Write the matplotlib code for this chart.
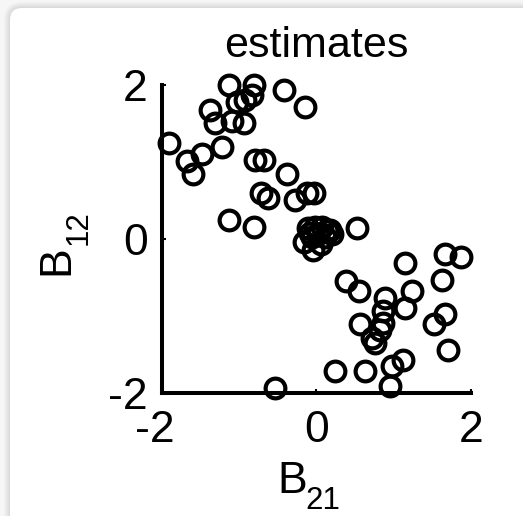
import matplotlib
matplotlib.use("Agg")
import matplotlib.pyplot as plt
from matplotlib.patches import FancyBboxPatch
import matplotlib.transforms as mtransforms
import numpy as np

plt.rcParams['font.family'] = ['Liberation Sans', 'DejaVu Sans']

# data
b21 = [-1.13, -0.81, -0.83, -1.02, -0.92, -0.42, -0.14, -1.37, -1.31, -1.09,
       -0.94, -1.91, -1.67, -1.48, -1.59, -1.22, -0.79, -0.68, -0.38, -0.72,
       -0.62, -0.27, -0.12, -0.03, -1.13, -0.81,
       -0.16, -0.04, -0.10, -0.02, 0.08, 0.18, 0.20, 0.12, 0.02, -0.06, 0.06, 0.14, -0.08,
       0.53,
       0.38, 0.55, 1.15, 1.67, 1.87, 1.63, 1.24, 0.89, 0.87, 1.15,
       0.57, 0.87, 0.82, 0.72, 0.76, 1.52, 1.67, 1.71, 0.24, 0.63,
       0.98, 1.13, 0.96, -0.53]
b12 = [2.00, 2.00, 1.87, 1.78, 1.80, 1.94, 1.72, 1.68, 1.51, 1.53,
       1.51, 1.25, 1.01, 1.10, 0.84, 1.19, 1.03, 1.03, 0.84, 0.60,
       0.53, 0.51, 0.60, 0.60, 0.25, 0.16,
       -0.04, -0.14, 0.14, 0.16, 0.16, 0.12, 0.06, 0.02, 0.06, 0.02, -0.06, 0.12, 0.08,
       0.14,
       -0.55, -0.68, -0.31, -0.20, -0.23, -0.53, -0.68, -0.77, -0.94, -0.90,
       -1.11, -1.09, -1.18, -1.28, -1.35, -1.11, -0.98, -1.44, -1.72, -1.72,
       -1.65, -1.57, -1.91, -1.94]
ticks = [-2, 0, 2]
tick_labels = ['-2', '0', '2']
title = 'estimates'
xlab_main, xlab_sub = 'B', '21'
ylab_main, ylab_sub = 'B', '12'

W, H, DPI = 523, 516, 100
fig = plt.figure(figsize=(W / DPI, H / DPI), dpi=DPI)
fig.patch.set_facecolor('#f6f6f6')

# soft shadow around the card
for i, (g, a) in enumerate([(0.80, 0.10), (0.80, 0.12), (0.78, 0.14), (0.78, 0.16), (0.76, 0.2)]):
    off = 6 - i * 1.2
    sh = FancyBboxPatch((10 - off, -40), W + 60, H - 8 + 40 + off,
                        boxstyle="round,pad=0,rounding_size=%g" % (12 + off),
                        transform=None, facecolor=(g, g, g), alpha=a,
                        edgecolor='none', zorder=-3)
    fig.patches.append(sh)
card = FancyBboxPatch((10, -40), W + 60, H - 8 + 40,
                      boxstyle="round,pad=0,rounding_size=12",
                      transform=None, facecolor='white', edgecolor='none', zorder=-2)
fig.patches.append(card)

ax = fig.add_axes([161.7 / W, 1 - 393 / H, 309 / W, 308 / H])
ax.set_zorder(5)
ax.set_facecolor('none')
ax.plot(b21, b12, linestyle='none', marker='o', markersize=14.2,
        markerfacecolor='none', markeredgecolor='black', markeredgewidth=3.0,
        clip_on=False, zorder=3)

ax.set_xlim(-2, 2)
ax.set_ylim(-2, 2)
ax.set_xticks(ticks)
ax.set_xticklabels(tick_labels)
ax.set_yticks(ticks)
ax.set_yticklabels(tick_labels)
for s in ['top', 'right']:
    ax.spines[s].set_visible(False)
for s in ['left', 'bottom']:
    ax.spines[s].set_linewidth(2.9)
ax.tick_params(direction='in', length=3, width=1.5, labelsize=32)
ax.tick_params(axis='x', pad=12)
ax.tick_params(axis='y', pad=10)

# negative x tick label: minus sign hangs to the left
shift = mtransforms.ScaledTranslation(-7 / DPI, 0, fig.dpi_scale_trans)
for lab in ax.get_xticklabels():
    if lab.get_text().startswith('-'):
        lab.set_transform(lab.get_transform() + shift)

ax.set_title(title, fontsize=31, pad=20)

# axis labels with lowered subscripts (pixel positions, origin bottom-left)
def px(x, y_from_top):
    return x / W, 1 - y_from_top / H

fig.text(*px(277, 493), xlab_main, fontsize=32, ha='left', va='baseline')
fig.text(*px(305, 509), xlab_sub, fontsize=22.5, ha='left', va='baseline')
fig.text(*px(68, 275), ylab_main, fontsize=32, ha='left', va='baseline',
         rotation=90, rotation_mode='anchor')
fig.text(*px(87, 245), ylab_sub, fontsize=22.5, ha='left', va='baseline',
         rotation=90, rotation_mode='anchor')

fig.savefig('out.png', dpi=DPI, facecolor=fig.get_facecolor())
